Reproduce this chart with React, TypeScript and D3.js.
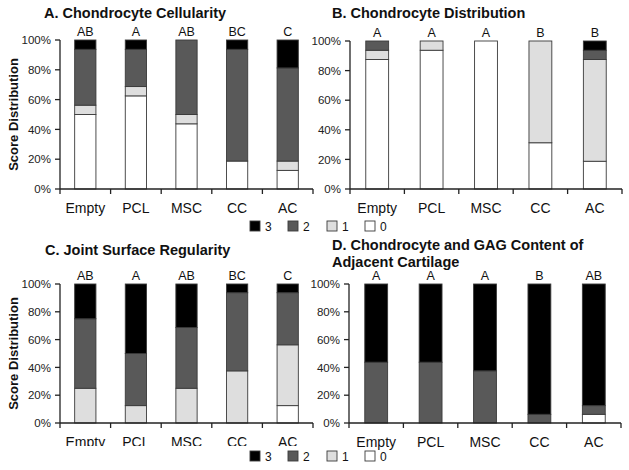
import React from "react";
import * as d3 from "d3";

const categories = ["Empty", "PCL", "MSC", "CC", "AC"];
const legendScores = ["3", "2", "1", "0"];

// Panel A: Chondrocyte Cellularity (% of samples per score)
const cellularity0 = [50, 62.5, 43.75, 18.75, 12.5];
const cellularity1 = [6.25, 6.25, 6.25, 0, 6.25];
const cellularity2 = [37.5, 25, 50, 75, 62.5];
const cellularity3 = [6.25, 6.25, 0, 6.25, 18.75];
const cellularityLetters = ["AB", "A", "AB", "BC", "C"];

// Panel B: Chondrocyte Distribution
const distribution0 = [87.5, 93.75, 100, 31.25, 18.75];
const distribution1 = [6.25, 6.25, 0, 68.75, 68.75];
const distribution2 = [6.25, 0, 0, 0, 6.25];
const distribution3 = [0, 0, 0, 0, 6.25];
const distributionLetters = ["A", "A", "A", "B", "B"];

// Panel C: Joint Surface Regularity
const surface0 = [0, 0, 0, 0, 12.5];
const surface1 = [25, 12.5, 25, 37.5, 43.75];
const surface2 = [50, 37.5, 43.75, 56.25, 37.5];
const surface3 = [25, 50, 31.25, 6.25, 6.25];
const surfaceLetters = ["AB", "A", "AB", "BC", "C"];

// Panel D: Chondrocyte and GAG Content of Adjacent Cartilage
const gag0 = [0, 0, 0, 0, 6.25];
const gag1 = [0, 0, 0, 0, 0];
const gag2 = [43.75, 43.75, 37.5, 6.25, 6.25];
const gag3 = [56.25, 56.25, 62.5, 93.75, 87.5];
const gagLetters = ["A", "A", "A", "B", "AB"];

const yTicks = [0, 20, 40, 60, 80, 100];

const FONT = "'Liberation Sans', Arial, Helvetica, sans-serif";
const colors: Record<string, string> = { s0: "#ffffff", s1: "#dedede", s2: "#595959", s3: "#000000" };
const keys = ["s0", "s1", "s2", "s3"];

type PanelProps = {
  title: string[];
  titleX: number;
  titleY: number;
  s0: number[];
  s1: number[];
  s2: number[];
  s3: number[];
  letters: string[];
  x0: number;
  x1: number;
  yTop: number;
  yBottom: number;
  showYLabel: boolean;
  clipBottom?: number;
};

function Panel(p: PanelProps) {
  const rows = categories.map((c, i) => ({ cat: c, s0: p.s0[i], s1: p.s1[i], s2: p.s2[i], s3: p.s3[i] }));
  const stack = d3.stack<any>().keys(keys)(rows);
  const x = d3.scaleBand().domain(categories).range([p.x0, p.x1]).paddingInner(0.58).paddingOuter(0.29);
  const y = d3.scaleLinear().domain([0, 100]).range([p.yBottom, p.yTop]);
  const step = x.step();
  const clipId = `clip-${p.x0}-${p.yTop}`;
  return (
    <g fontFamily={FONT}>
      {p.title.map((t, i) => (
        <text key={i} x={p.titleX} y={p.titleY + i * 17} fontSize={14.5} fontWeight="bold" fill="#111">
          {t}
        </text>
      ))}
      {p.showYLabel && (
        <text
          transform={`translate(${p.x0 - 42},${(p.yTop + p.yBottom) / 2}) rotate(-90)`}
          textAnchor="middle"
          fontSize={13}
          fontWeight="bold"
          fill="#111"
        >
          Score Distribution
        </text>
      )}
      {stack.map((layer) =>
        layer.map((d, i) => {
          const h = y(d[0]) - y(d[1]);
          if (h <= 0) return null;
          return (
            <rect
              key={layer.key + i}
              x={x(categories[i])}
              y={y(d[1])}
              width={x.bandwidth()}
              height={h}
              fill={colors[layer.key]}
              stroke="#3a3a3a"
              strokeWidth={0.9}
            />
          );
        })
      )}
      {/* y axis */}
      <line x1={p.x0} x2={p.x0} y1={p.yTop} y2={p.yBottom} stroke="#222" strokeWidth={1.3} />
      {yTicks.map((t) => (
        <g key={t}>
          <line x1={p.x0 - 5} x2={p.x0} y1={y(t)} y2={y(t)} stroke="#222" strokeWidth={1.3} />
          <text x={p.x0 - 9} y={y(t)} dy="0.36em" textAnchor="end" fontSize={11.5} fill="#222">
            {t}%
          </text>
        </g>
      ))}
      {/* x axis */}
      <line x1={p.x0} x2={p.x1} y1={p.yBottom} y2={p.yBottom} stroke="#222" strokeWidth={1.3} />
      {d3.range(categories.length + 1).map((i) => (
        <line
          key={i}
          x1={p.x0 + i * step}
          x2={p.x0 + i * step}
          y1={p.yBottom}
          y2={p.yBottom + 5}
          stroke="#222"
          strokeWidth={1.3}
        />
      ))}
      {p.clipBottom !== undefined && (
        <defs>
          <clipPath id={clipId}>
            <rect x={p.x0 - 10} y={p.yBottom} width={p.x1 - p.x0 + 20} height={p.clipBottom - p.yBottom} />
          </clipPath>
        </defs>
      )}
      <g clipPath={p.clipBottom !== undefined ? `url(#${clipId})` : undefined}>
        {categories.map((c) => (
          <text
            key={c}
            x={(x(c) as number) + x.bandwidth() / 2}
            y={p.yBottom + 24}
            textAnchor="middle"
            fontSize={14}
            fill="#111"
          >
            {c}
          </text>
        ))}
      </g>
      {p.letters.map((l, i) => (
        <text
          key={i}
          x={(x(categories[i]) as number) + x.bandwidth() / 2}
          y={p.yTop - 4}
          textAnchor="middle"
          fontSize={12.5}
          fill="#111"
        >
          {l}
        </text>
      ))}
    </g>
  );
}

function Legend({ y }: { y: number }) {
  const xs = [250, 288, 327, 365];
  const fills = ["#000000", "#595959", "#dedede", "#ffffff"];
  return (
    <g fontFamily={FONT}>
      {legendScores.map((s, i) => (
        <g key={s}>
          <rect x={xs[i]} y={y - 5} width={10} height={10} fill={fills[i]} stroke="#3a3a3a" strokeWidth={0.9} />
          <text x={xs[i] + 15} y={y} dy="0.42em" fontSize={12} fill="#111">
            {s}
          </text>
        </g>
      ))}
    </g>
  );
}

export default function App() {
  return (
    <svg
      width={629}
      height={470}
      viewBox="0 0 629 470"
      style={{ position: "absolute", left: 0, top: 0, background: "#fff" }}
    >
      <rect width={629} height={470} fill="#fff" />
      <Panel
        title={["A. Chondrocyte Cellularity"]}
        titleX={44}
        titleY={18}
        s0={cellularity0}
        s1={cellularity1}
        s2={cellularity2}
        s3={cellularity3}
        letters={cellularityLetters}
        x0={60}
        x1={313}
        yTop={40}
        yBottom={189}
        showYLabel={true}
      />
      <Panel
        title={["B. Chondrocyte Distribution"]}
        titleX={332}
        titleY={18}
        s0={distribution0}
        s1={distribution1}
        s2={distribution2}
        s3={distribution3}
        letters={distributionLetters}
        x0={350}
        x1={622}
        yTop={41}
        yBottom={189}
        showYLabel={false}
      />
      <Panel
        title={["C. Joint Surface Regularity"]}
        titleX={45}
        titleY={255}
        s0={surface0}
        s1={surface1}
        s2={surface2}
        s3={surface3}
        letters={surfaceLetters}
        x0={60}
        x1={313}
        yTop={284}
        yBottom={423}
        showYLabel={true}
        clipBottom={446}
      />
      <Panel
        title={["D. Chondrocyte and GAG Content of", "Adjacent Cartilage"]}
        titleX={332}
        titleY={250}
        s0={gag0}
        s1={gag1}
        s2={gag2}
        s3={gag3}
        letters={gagLetters}
        x0={349}
        x1={621}
        yTop={284}
        yBottom={423}
        showYLabel={false}
      />
      <Legend y={226} />
      <Legend y={456} />
    </svg>
  );
}
